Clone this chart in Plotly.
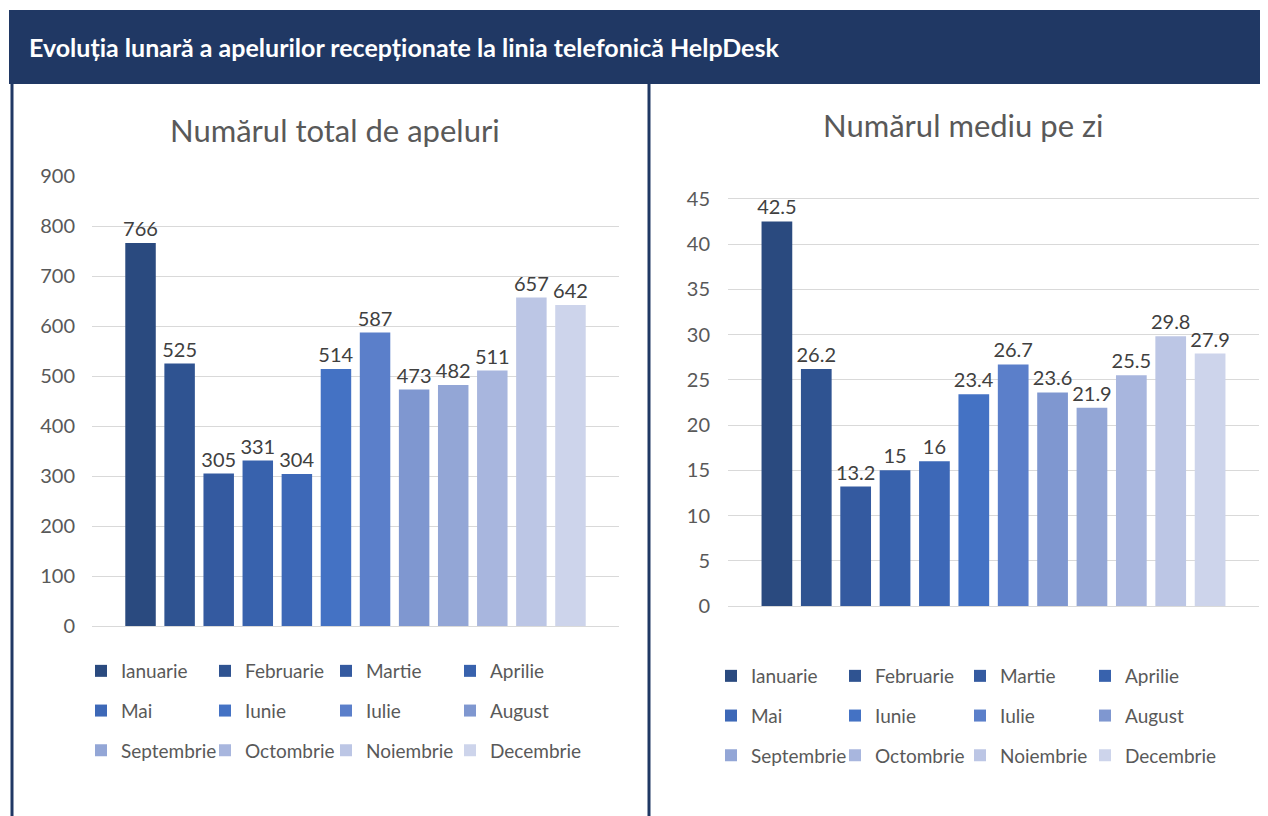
import plotly.graph_objects as go

months = ["Ianuarie", "Februarie", "Martie", "Aprilie", "Mai", "Iunie",
          "Iulie", "August", "Septembrie", "Octombrie", "Noiembrie", "Decembrie"]
total_calls = [766, 525, 305, 331, 304, 514, 587, 473, 482, 511, 657, 642]
daily_avg = [42.5, 26.2, 13.2, 15, 16, 23.4, 26.7, 23.6, 21.9, 25.5, 29.8, 27.9]
colors = ["#2a4a7f", "#2f5391", "#345aa0", "#3862ad", "#3d68b7", "#4472c4",
          "#5b7fca", "#7f97d0", "#93a6d6", "#a8b6de", "#bcc6e5", "#cdd4eb"]

W, H = 1268, 816
OFF = 8  # page body margin, positions below are screen pixels
NAVY = "#203864"
GREY = "#595959"
FONT = "Lato"


def px(x):
    return (x - OFF) / W


def py(y):
    return 1 - (y - OFF) / H


fig = go.Figure()

# one trace per month so every month gets its own legend entry;
# legends are split into 4 columns per chart (Ian/Mai/Sep, Feb/Iun/Oct, ...)
for side, (vals, xa, ya) in enumerate([(total_calls, "x", "y"), (daily_avg, "x2", "y2")]):
    for i, (m, v) in enumerate(zip(months, vals)):
        n = side * 4 + i % 4 + 1
        fig.add_trace(go.Bar(
            x=["c"], y=[v], name=m,
            marker=dict(color=colors[i], line=dict(width=0)),
            texttemplate="%{y}", textposition="outside",
            textfont=dict(size=20, color="#404040", family=FONT),
            cliponaxis=False, constraintext="none",
            xaxis=xa, yaxis=ya,
            legend="legend" if n == 1 else f"legend{n}",
            legendgroup=f"{side}-{m}",
            hoverinfo="name+y",
        ))

axis_common = dict(showgrid=True, gridcolor="#d9d9d9", gridwidth=1,
                   zeroline=True, zerolinecolor="#d9d9d9", zerolinewidth=1,
                   showline=False, ticks="", fixedrange=True, automargin=False,
                   tickfont=dict(size=20, color=GREY, family=FONT))
xaxis_common = dict(showticklabels=False, showgrid=False, zeroline=False,
                    fixedrange=True, automargin=False, range=[-0.5, 0.5])

legend_common = dict(orientation="v", xanchor="left", yanchor="middle",
                     tracegroupgap=12,
                     bgcolor="rgba(0,0,0,0)", itemclick=False, itemdoubleclick=False,
                     font=dict(size=19, color=GREY, family=FONT))

left_cols = [98, 222, 343, 467]
right_cols = [728, 852, 977, 1102]
layouts = {}
for k, sx in enumerate(left_cols + right_cols):
    n = k + 1
    name = "legend" if n == 1 else f"legend{n}"
    yc = 711 if k < 4 else 716
    layouts[name] = dict(legend_common, x=px(sx - 17), y=py(yc))

fig.update_layout(
    width=W, height=H,
    margin=dict(l=0, r=0, t=0, b=0, autoexpand=False),
    paper_bgcolor="white", plot_bgcolor="white",
    font=dict(family=FONT, color=GREY),
    barmode="group", bargap=0.11, bargroupgap=0.22,
    showlegend=True,
    xaxis=dict(xaxis_common, domain=[px(92), px(619)]),
    yaxis=dict(axis_common, domain=[py(626), py(175)], range=[0, 902], dtick=100,
               ticklabelstandoff=16),
    xaxis2=dict(xaxis_common, domain=[px(728), px(1259)], anchor="y2"),
    yaxis2=dict(axis_common, domain=[py(606), py(197)], range=[0, 45.2], dtick=5,
                anchor="x2", ticklabelstandoff=17),
    **layouts,
)

# header band and panel borders
fig.add_shape(type="rect", xref="paper", yref="paper", x0=px(9), x1=1, y0=py(84), y1=py(10),
              fillcolor=NAVY, line=dict(width=0), layer="below")
fig.add_shape(type="line", xref="paper", yref="paper", x0=px(12), x1=px(12), y0=0, y1=py(84),
              line=dict(color=NAVY, width=3))
fig.add_shape(type="line", xref="paper", yref="paper", x0=px(649), x1=px(649), y0=0, y1=py(84),
              line=dict(color=NAVY, width=3))

fig.add_annotation(text="<b>Evoluția lunară a apelurilor recepționate la linia telefonică HelpDesk</b>",
                   xref="paper", yref="paper", x=px(27), y=py(47), xanchor="left", yanchor="middle",
                   showarrow=False, font=dict(size=25, color="white", family=FONT))
fig.add_annotation(text="Numărul total de apeluri", xref="paper", yref="paper",
                   x=px(335), y=py(130), xanchor="center", yanchor="middle",
                   showarrow=False, font=dict(size=31, color=GREY, family=FONT))
fig.add_annotation(text="Numărul mediu pe zi", xref="paper", yref="paper",
                   x=px(963), y=py(125), xanchor="center", yanchor="middle",
                   showarrow=False, font=dict(size=31, color=GREY, family=FONT))

fig.write_html("out.html")
